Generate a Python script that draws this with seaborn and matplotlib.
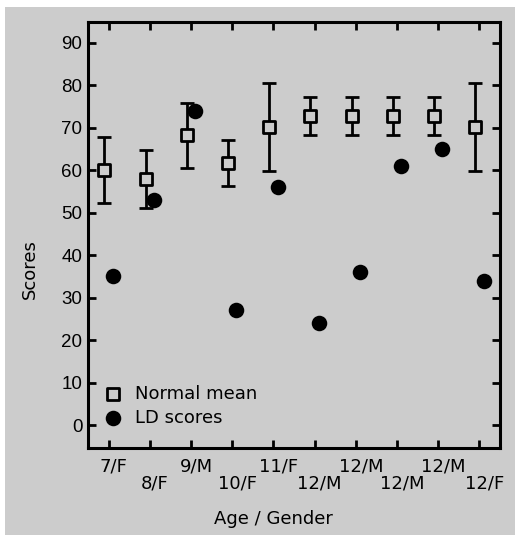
import numpy as np
import matplotlib
matplotlib.use("Agg")
import matplotlib.pyplot as plt
import matplotlib.transforms as mtransforms
from matplotlib.patches import Rectangle
import seaborn as sns

# datos
grupos = ["7/F", "8/F", "9/M", "10/F", "11/F", "12/M", "12/M", "12/M", "12/M", "12/F"]
media_normal = [60, 58, 68.2, 61.8, 70.2, 72.8, 72.8, 72.8, 72.8, 70.2]
error_normal = [7.8, 6.8, 7.6, 5.4, 10.4, 4.4, 4.4, 4.4, 4.4, 10.4]
puntaje_ld = [35, 53, 74, 27, 56, 24, 36, 61, 65, 34]
yticks = list(range(0, 100, 10))

sns.set_style("ticks")
plt.rcParams['font.family'] = ['DejaVu Sans']
plt.rcParams['text.color'] = "black"
plt.rcParams['axes.labelcolor'] = "black"
plt.rcParams['xtick.labelcolor'] = "black"
plt.rcParams['ytick.labelcolor'] = "black"

gris = "#cccccc"
fig = plt.figure(figsize=(5.15, 5.35), dpi=100, facecolor="white")
fig.patches.append(Rectangle((5 / 515, -0.01), 1.0, 528 / 535 + 0.01,
                             transform=fig.transFigure, facecolor=gris,
                             edgecolor="none", zorder=-10))
ax = fig.add_axes([88 / 515, 1 - 448 / 535, 412 / 515, 426 / 535])
ax.set_facecolor(gris)

idx = np.arange(len(grupos))
x_media = idx - 0.1
x_ld = idx + 0.1

ax.errorbar(x_media, media_normal, yerr=error_normal, fmt="none",
            ecolor="black", elinewidth=2, capsize=5, capthick=2, zorder=2)
sns.scatterplot(x=x_media, y=media_normal, marker="s", s=80, color=gris,
                edgecolor="black", linewidth=2, ax=ax, zorder=3, label="Normal mean")
sns.scatterplot(x=x_ld, y=puntaje_ld, marker="o", s=125, color="black",
                edgecolor="black", linewidth=0, ax=ax, zorder=4, label="LD scores")

ax.set_xlim(-0.5, 9.5)
ax.set_ylim(-5.4, 94.9)
ax.set_yticks(yticks)
ax.set_yticklabels([str(v) for v in yticks], family="Liberation Sans", fontsize=13.5)
ax.set_xticks(idx)
ax.set_xticklabels(grupos, fontsize=13)

for s in ax.spines.values():
    s.set_linewidth(2.2)
    s.set_color("black")
ax.tick_params(axis="both", direction="in", length=6, width=2,
               top=True, right=True, color="black")
ax.tick_params(axis="y", pad=4)

desplaza = mtransforms.ScaledTranslation(5 / 100, 0, fig.dpi_scale_trans)
for i, t in enumerate(ax.xaxis.get_major_ticks()):
    t.set_pad(7 if i % 2 == 0 else 19)
    t.label1.set_transform(t.label1.get_transform() + desplaza)

ax.set_xlabel("Age / Gender", fontsize=13)
ax.set_ylabel("Scores", fontsize=13)
ax.xaxis.set_label_coords(0.45, -0.145)
ax.yaxis.set_label_coords(-0.119, 0.42)

leg = ax.legend(loc="lower left", bbox_to_anchor=(0.0, 0.015), frameon=False,
                fontsize=13, handletextpad=0.6, borderaxespad=0.4,
                labelspacing=0.35, handlelength=1.2)

fig.savefig("out.png", dpi=100, facecolor="white")
